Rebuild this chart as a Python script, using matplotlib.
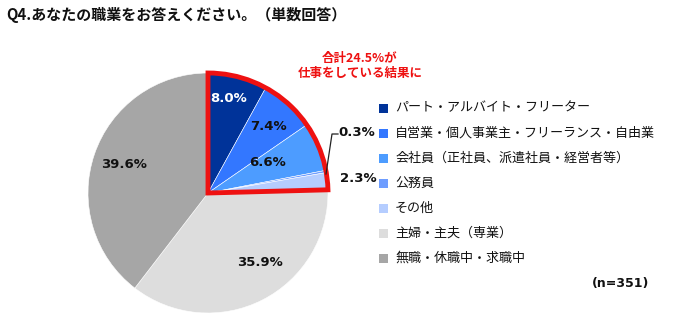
import matplotlib
matplotlib.use("Agg")
import matplotlib.pyplot as plt
from matplotlib.patches import Wedge, Rectangle

plt.rcParams['font.family'] = ['Noto Sans CJK JP', 'DejaVu Sans']

# data
categories = ["パート・アルバイト・フリーター", "自営業・個人事業主・フリーランス・自由業",
              "会社員（正社員、派遣社員・経営者等）", "公務員", "その他",
              "主婦・主夫（専業）", "無職・休職中・求職中"]
values = [8.0, 7.4, 6.6, 0.3, 2.3, 35.9, 39.6]
colors = ["#003399", "#3377ff", "#4d9cff", "#6e9dff", "#b5cdff", "#dddddd", "#a6a6a6"]
label_colors = ["white", "#111111", "#111111", "#111111", "#111111", "#111111", "#111111"]
title = "Q4.あなたの職業をお答えください。（単数回答）"
note = "合計24.5%が\n仕事をしている結果に"
n_text = "(n=351)"

W, H = 678, 324
fig = plt.figure(figsize=(W / 100, H / 100), dpi=100)
ax = fig.add_axes([0, 0, 1, 1])
ax.set_xlim(0, W)
ax.set_ylim(H, 0)
ax.axis("off")

cx, cy, r = 208, 193, 120

# pie drawn clockwise from 12 o'clock (y axis is flipped, so angles go with +)
total = sum(values)
start = -90.0
angles = []
for v, c in zip(values, colors):
    sweep = v / total * 360
    w = Wedge((cx, cy), r, start, start + sweep, facecolor=c, edgecolor="white", linewidth=0.4)
    ax.add_patch(w)
    angles.append((start, start + sweep))
    start += sweep

# red outline around the working group
work_end = angles[4][1]
ax.add_patch(Wedge((cx, cy), r, -90, work_end, fill=False, edgecolor="#ee1111",
                   linewidth=3.5, joinstyle="miter"))

# value labels
label_pos = [(229, 99), (268, 127), (267, 162), (357, 133), (358, 179), (260, 262), (124, 165)]
for v, (x, y), tc in zip(values, label_pos, label_colors):
    ax.text(x, y, f"{v:.1f}%", ha="center", va="center", fontsize=9.5, fontweight="bold",
            color=tc, family=["DejaVu Sans"])

# leader line for the 0.3% slice
ax.plot([326, 332, 338], [174, 134, 134], color="#222222", linewidth=0.9)

ax.text(360, 66, note, ha="center", va="center", fontsize=9, fontweight="bold",
        color="#ee1111", linespacing=1.25)

# title
ax.text(6, 15, title, ha="left", va="center", fontsize=10.8, fontweight="bold", color="#111111")

# legend
leg_y0, leg_dy = 108, 25
for i, (lab, c) in enumerate(zip(categories, colors)):
    y = leg_y0 + i * leg_dy
    ax.add_patch(Rectangle((379, y - 4), 9, 9, facecolor=c, edgecolor="none"))
    ax.text(395, y, lab, ha="left", va="center", fontsize=9.4, color="#111111")

ax.text(621, 284, n_text, ha="center", va="center", fontsize=9, fontweight="bold",
        color="#111111", family=["DejaVu Sans"])

fig.savefig("out.png", dpi=100)
